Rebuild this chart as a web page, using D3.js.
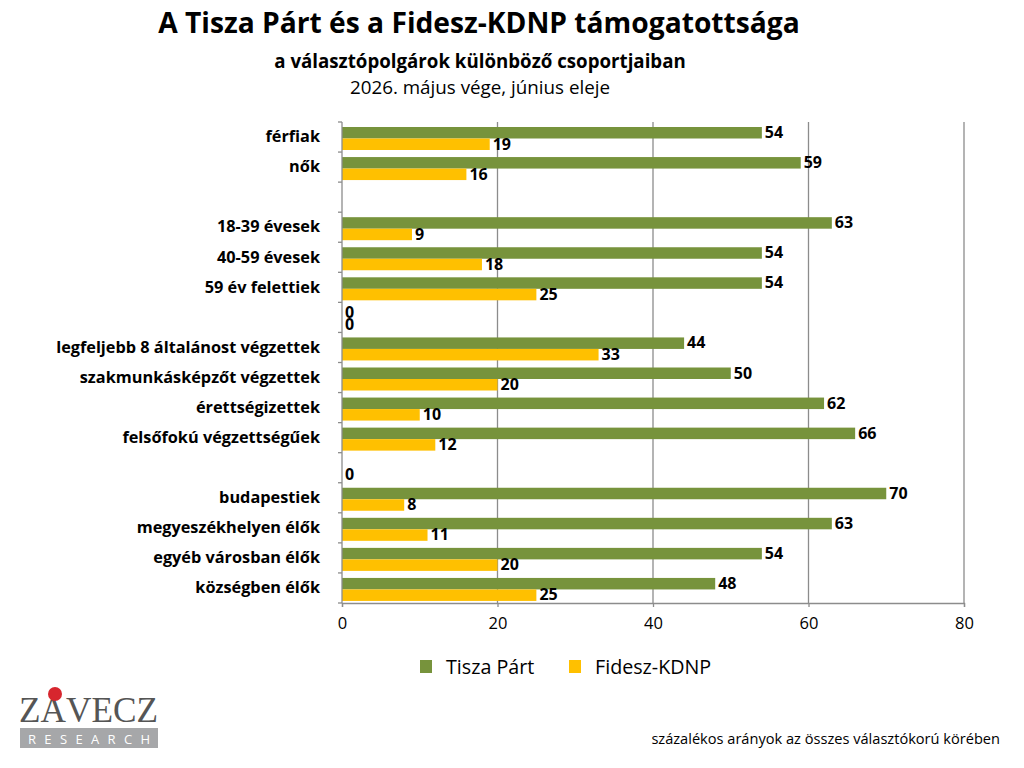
<!DOCTYPE html>
<html>
<head>
<meta charset="utf-8">
<script src="https://cdn.jsdelivr.net/npm/d3@7"></script>
<style>
html,body{margin:0;padding:0;background:#fff;}
svg{display:block;font-family:"Open Sans",sans-serif;}
</style>
</head>
<body>
<svg id="chart" width="1024" height="768"></svg>
<script>
const categories = ["férfiak","nők","","18-39 évesek","40-59 évesek","59 év felettiek","","legfeljebb 8 általánost végzettek","szakmunkásképzőt végzettek","érettségizettek","felsőfokú végzettségűek","","budapestiek","megyeszékhelyen élők","egyéb városban élők","községben élők"];
const tiszaValues = [54,59,null,63,54,54,0,44,50,62,66,null,70,63,54,48];
const fideszValues = [19,16,null,9,18,25,0,33,20,10,12,0,8,11,20,25];
const seriesNames = ["Tisza Párt","Fidesz-KDNP"];
const seriesColors = ["#77933C","#FFC000"];
const xTicks = [0,20,40,60,80];
const titleText = "A Tisza Párt és a Fidesz-KDNP támogatottsága";
const subtitleText = "a választópolgárok különböző csoportjaiban";
const dateText = "2026. május vége, június eleje";
const noteText = "százalékos arányok az összes választókorú körében";

const FONT = "'Open Sans',sans-serif";
const svg = d3.select("#chart");
const pLeft = 342, pRight = 964, pTop = 122, pBottom = 603;

const x = d3.scaleLinear().domain([0,80]).range([pLeft,pRight]);
const y = d3.scaleBand().domain(d3.range(categories.length)).range([pTop,pBottom]).paddingInner(0).paddingOuter(0);
const bw = y.bandwidth();

// titles
svg.append("text").attr("x",479).attr("y",33).attr("text-anchor","middle")
  .attr("font-size",28.2).attr("font-weight","bold").attr("fill","#000").text(titleText);
svg.append("text").attr("x",480).attr("y",68).attr("text-anchor","middle")
  .attr("font-size",18.7).attr("font-weight","bold").attr("fill","#000").text(subtitleText);
svg.append("text").attr("x",480).attr("y",94).attr("text-anchor","middle")
  .attr("font-size",18.8).attr("fill","#000").text(dateText);

// gridlines
svg.append("g").selectAll("line").data(xTicks.slice(1)).join("line")
  .attr("x1",d=>x(d)).attr("x2",d=>x(d)).attr("y1",pTop).attr("y2",pBottom)
  .attr("stroke","#8c8c8c").attr("stroke-width",1.3);

// bars
const gBars = svg.append("g");
const offsets = [5, 16.5];
const bh = 11.5;
[tiszaValues, fideszValues].forEach((vals, s) => {
  gBars.append("g").selectAll("rect").data(vals.map((v,i)=>({v,i}))).join("rect")
    .attr("x",x(0)).attr("y",d=>y(d.i)+offsets[s])
    .attr("width",d=>x(d.v||0)-x(0)).attr("height",bh)
    .attr("fill",seriesColors[s]);
  gBars.append("g").selectAll("text").data(vals.map((v,i)=>({v,i})).filter(d=>d.v!==null)).join("text")
    .attr("x",d=>x(d.v)+3).attr("y",d=>y(d.i)+offsets[s]+bh/2+1)
    .attr("dominant-baseline","middle")
    .attr("font-size",16).attr("font-weight","bold").attr("fill","#000")
    .text(d=>d.v);
});

// left axis
const yAxis = d3.axisLeft(y).tickSize(0).tickPadding(22).tickFormat(i=>categories[i]);
const gy = svg.append("g").attr("transform",`translate(${pLeft},0)`).call(yAxis);
gy.select(".domain").remove();
gy.selectAll("text").attr("font-size",16.3).attr("font-weight","bold").attr("fill","#000")
  .attr("font-family",FONT);
svg.append("line").attr("x1",pLeft).attr("x2",pLeft).attr("y1",pTop).attr("y2",pBottom)
  .attr("stroke","#8c8c8c").attr("stroke-width",1.3);
svg.append("g").selectAll("line").data(d3.range(categories.length+1)).join("line")
  .attr("x1",pLeft-4).attr("x2",pLeft).attr("y1",i=>pTop+i*bw).attr("y2",i=>pTop+i*bw)
  .attr("stroke","#8c8c8c").attr("stroke-width",1.3);

// bottom axis
const xAxis = d3.axisBottom(x).tickValues(xTicks).tickSize(4).tickPadding(10).tickFormat(d3.format("d"));
const gx = svg.append("g").attr("transform",`translate(0,${pBottom})`).call(xAxis);
gx.select(".domain").attr("stroke","#8c8c8c").attr("stroke-width",1.3);
gx.selectAll(".tick line").attr("stroke","#8c8c8c").attr("stroke-width",1.3);
gx.selectAll("text").attr("font-size",16.5).attr("fill","#000").attr("font-family",FONT);

// legend
const legX = [420, 569];
seriesNames.forEach((n,s)=>{
  svg.append("rect").attr("x",legX[s]).attr("y",660).attr("width",12).attr("height",13).attr("fill",seriesColors[s]);
  svg.append("text").attr("x",legX[s]+26).attr("y",674).attr("font-size",19.7).attr("fill","#000").text(n);
});

// note
svg.append("text").attr("x",1000).attr("y",744).attr("text-anchor","end")
  .attr("font-size",14.6).attr("fill","#000").text(noteText);

// logo
const logo = svg.append("g");
logo.append("text").attr("x",19).attr("y",722).attr("font-family","'Liberation Serif',serif")
  .attr("font-size",35).attr("fill","#555").attr("textLength",139).attr("lengthAdjust","spacingAndGlyphs").text("ZÁVECZ");
logo.append("circle").attr("cx",55).attr("cy",694).attr("r",7).attr("fill","#d7262e");
logo.append("rect").attr("x",20).attr("y",728).attr("width",138).attr("height",20).attr("fill","#a6a7a9");
logo.append("text").attr("x",28).attr("y",743.5).attr("font-size",13).attr("fill","#fff")
  .attr("textLength",122).attr("lengthAdjust","spacing").text("RESEARCH");
</script>
</body>
</html>
